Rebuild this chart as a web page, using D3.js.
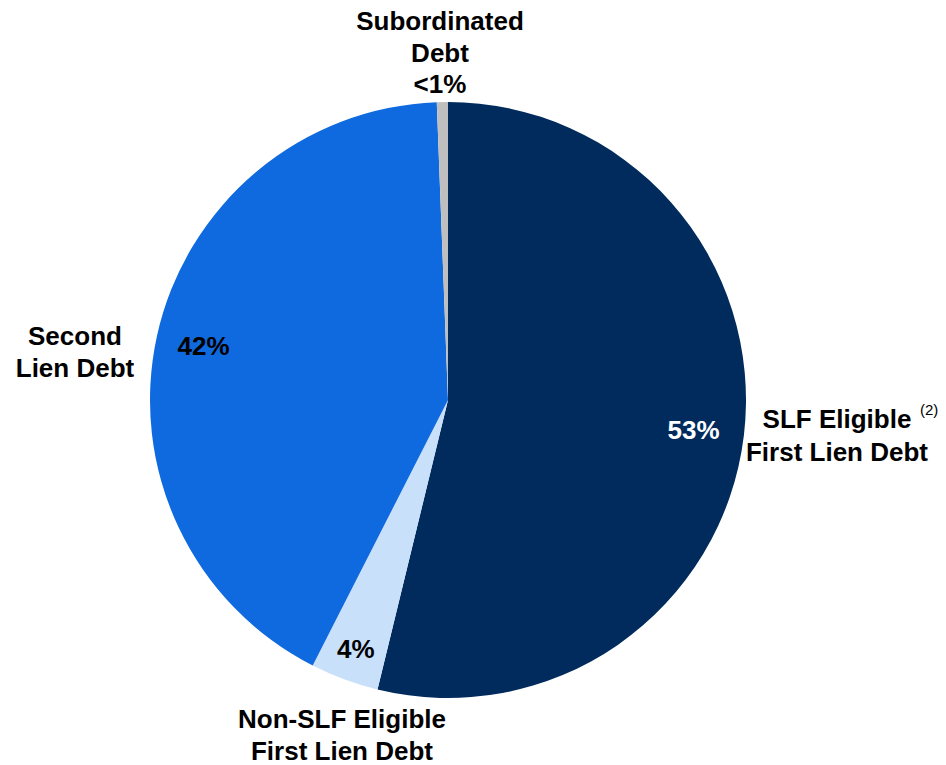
<!DOCTYPE html>
<html>
<head>
<meta charset="utf-8">
<script src="https://cdn.jsdelivr.net/npm/d3@7"></script>
<style>
  body { margin: 0; background: #fff; }
  #chart { width: 946px; height: 765px; }
  .lbl { font-family: "Liberation Sans", Arial, sans-serif; font-weight: bold; font-size: 26px; fill: #000; }
  .sup { font-family: "Liberation Sans", Arial, sans-serif; font-size: 15px; fill: #000; }
</style>
</head>
<body>
<div id="chart"></div>
<script>
// slices, clockwise from 12 o'clock
const categories = ["SLF Eligible First Lien Debt", "Non-SLF Eligible First Lien Debt", "Second Lien Debt", "Subordinated Debt"];
const values = [53.8, 3.7, 41.9, 0.6];
const pctLabels = ["53%", "4%", "42%", "<1%"];
const colors = ["#012b5d", "#c9e0fa", "#0f69df", "#bfbfbf"];

function renderPie(selector) {
    const width = 946, height = 765;
    const cx = 448, cy = 400, radius = 298;

    const svg = d3.select(selector).append("svg")
        .attr("width", width)
        .attr("height", height);

    const g = svg.append("g").attr("transform", `translate(${cx}, ${cy})`);

    const data = categories.map((c, i) => ({name: c, value: values[i], pct: pctLabels[i], color: colors[i]}));

    const pie = d3.pie().sort(null).value(d => d.value);
    const arc = d3.arc().innerRadius(0).outerRadius(radius);
    const arcs = pie(data);

    g.selectAll("path")
        .data(arcs)
        .enter()
        .append("path")
        .attr("d", arc)
        .attr("fill", d => d.data.color);

    // percentage labels inside slices (radius factor per slice)
    const inside = [
        {i: 0, r: 0.83, fill: "#fff"},
        {i: 1, r: 0.89, fill: "#000"},
        {i: 2, r: 0.84, fill: "#000"}
    ];
    inside.forEach(o => {
        const a = arcs[o.i];
        const mid = (a.startAngle + a.endAngle) / 2;
        const rr = radius * o.r;
        g.append("text")
            .attr("class", "lbl")
            .attr("x", Math.sin(mid) * rr)
            .attr("y", -Math.cos(mid) * rr)
            .attr("dy", "0.35em")
            .attr("text-anchor", "middle")
            .style("fill", o.fill)
            .text(a.data.pct);
    });

    // category labels outside
    const outer = [
        {x: 440, y: 30, gap: 31.5, lines: ["Subordinated", "Debt", "<1%"]},
        {x: 75, y: 345, gap: 32, lines: ["Second", "Lien Debt"]},
        {x: 837, y: 428, gap: 33, lines: ["SLF Eligible", "First Lien Debt"]},
        {x: 342, y: 728, gap: 32, lines: ["Non-SLF Eligible", "First Lien Debt"]}
    ];
    outer.forEach(o => {
        const t = svg.append("text")
            .attr("class", "lbl")
            .attr("text-anchor", "middle")
            .attr("x", o.x)
            .attr("y", o.y);
        o.lines.forEach((l, k) => {
            t.append("tspan")
                .attr("x", o.x)
                .attr("dy", k === 0 ? 0 : o.gap)
                .text(l);
        });
    });

    svg.append("text")
        .attr("class", "sup")
        .attr("x", 920)
        .attr("y", 415)
        .text("(2)");
}

renderPie("#chart");
</script>
</body>
</html>
